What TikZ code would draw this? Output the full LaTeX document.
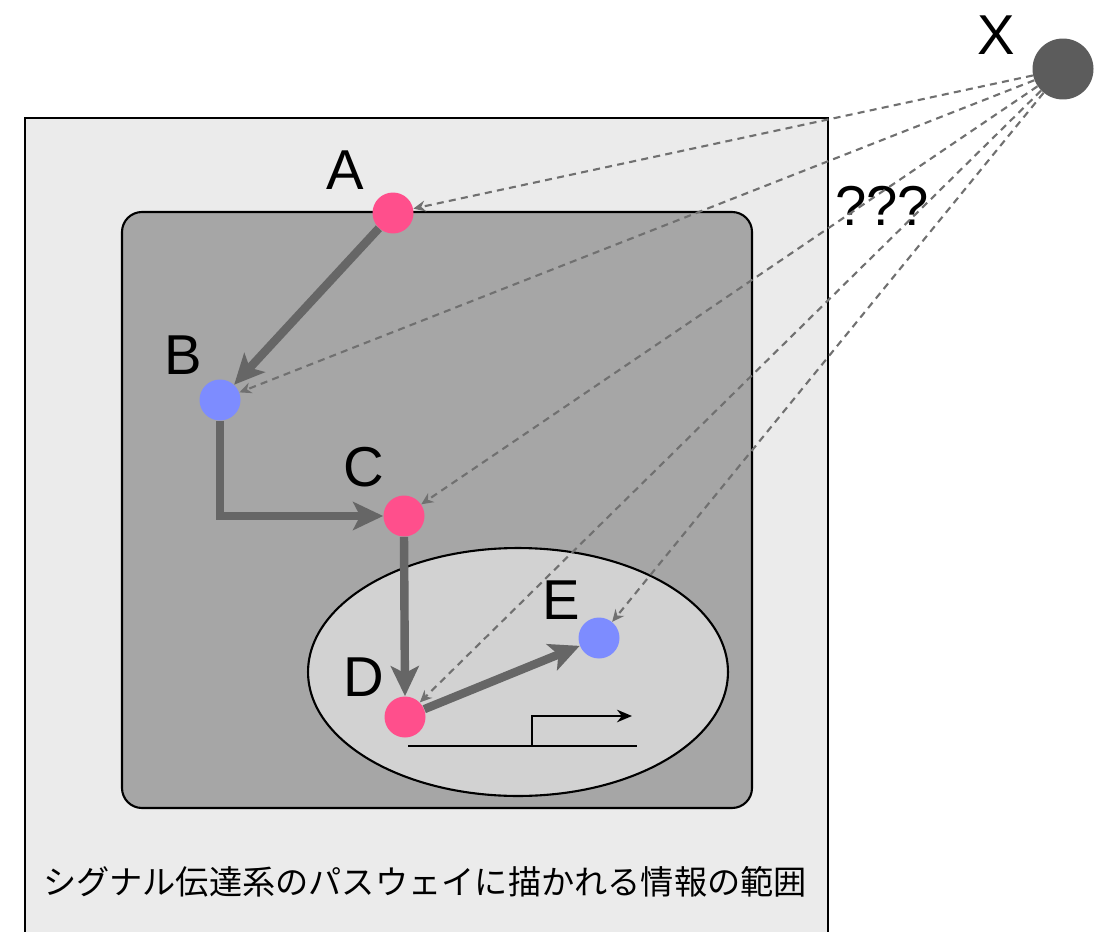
\documentclass[tikz,border=0pt]{standalone}
\usepackage{fontspec}
\setmainfont{Liberation Sans}
\newfontfamily\jpfont{Noto Sans CJK JP}
\usetikzlibrary{arrows.meta,shapes.geometric}
\definecolor{outerfill}{HTML}{EBEBEB}
\definecolor{innerfill}{HTML}{A6A6A6}
\definecolor{ellfill}{HTML}{D2D2D2}
\definecolor{pinkc}{HTML}{FF4F8C}
\definecolor{bluec}{HTML}{7D8CFF}
\definecolor{xdark}{HTML}{5C5C5C}
\definecolor{arrowgray}{HTML}{666666}
\definecolor{dashgray}{HTML}{707070}
\tikzset{
  dot/.style={circle, inner sep=0pt, minimum size=0.82cm, draw=none},
  pinkdot/.style={dot, fill=pinkc},
  bluedot/.style={dot, fill=bluec},
  lbl/.style={font=\fontsize{32}{38}\selectfont, inner sep=0pt},
  thickarrow/.style={draw=arrowgray, line width=4.8pt, -{Stealth[length=0.6cm, width=0.56cm, inset=0.14cm]}},
  dasharrow/.style={draw=dashgray, line width=1.2pt, dash pattern=on 4pt off 3pt, -{Stealth[length=0.24cm, width=0.22cm]}},
  frame/.style={draw=black, line width=1.2pt}
}
\begin{document}
\begin{tikzpicture}[x=0.02cm,y=-0.02cm]
\useasboundingbox (0,0) rectangle (1118,932);
\clip (0,0) rectangle (1118,932);
\draw[frame, fill=outerfill] (25,118) rectangle (828,980);
\draw[frame, fill=innerfill, rounded corners=0.4cm] (122,212) rectangle (752,808);
\node[frame, fill=ellfill, ellipse, minimum width=8.4cm, minimum height=4.96cm, inner sep=0pt] (nuc) at (518,672) {};

\node[pinkdot] (A) at (393,213) {};
\node[bluedot] (B) at (220,400) {};
\node[pinkdot] (C) at (404,516) {};
\node[pinkdot] (D) at (405,717) {};
\node[bluedot] (E) at (599,638) {};
\node[circle, inner sep=0pt, minimum size=1.22cm, fill=xdark] (X) at (1063,69) {};

\node[lbl] (lA) at (345,170) {A};
\node[lbl] (lB) at (183,355) {B};
\node[lbl] (lC) at (364,467) {C};
\node[lbl] (lD) at (364,677) {D};
\node[lbl] (lE) at (561,600) {E};
\node[lbl] (lX) at (996,35) {X};
\node[lbl] (q) at (882,206) {???};

\draw[thickarrow] (A) -- (B);
\draw[thickarrow] (B.south) |- (C.west);
\draw[thickarrow] (C.south) -- (D.north);
\draw[thickarrow] (D) -- (E);

\draw[dasharrow] (X) -- (A);
\draw[dasharrow] (X) -- (B);
\draw[dasharrow] (X) -- (C);
\draw[dasharrow] (X) -- (D);
\draw[dasharrow] (X) -- (E);

\coordinate (g1) at (408,746);
\coordinate (g2) at (637,746);
\coordinate (p1) at (532,746);
\coordinate (p2) at (632,716);
\draw[line width=1.3pt] (g1) -- (g2);
\draw[line width=1.3pt, -{Stealth[length=0.3cm, width=0.25cm]}] (p1) |- (p2);

\node[font=\jpfont\fontsize{18.9}{22}\selectfont, inner sep=0pt] (cap) at (425,882) {シグナル伝達系のパスウェイに描かれる情報の範囲};
\end{tikzpicture}
\end{document}
